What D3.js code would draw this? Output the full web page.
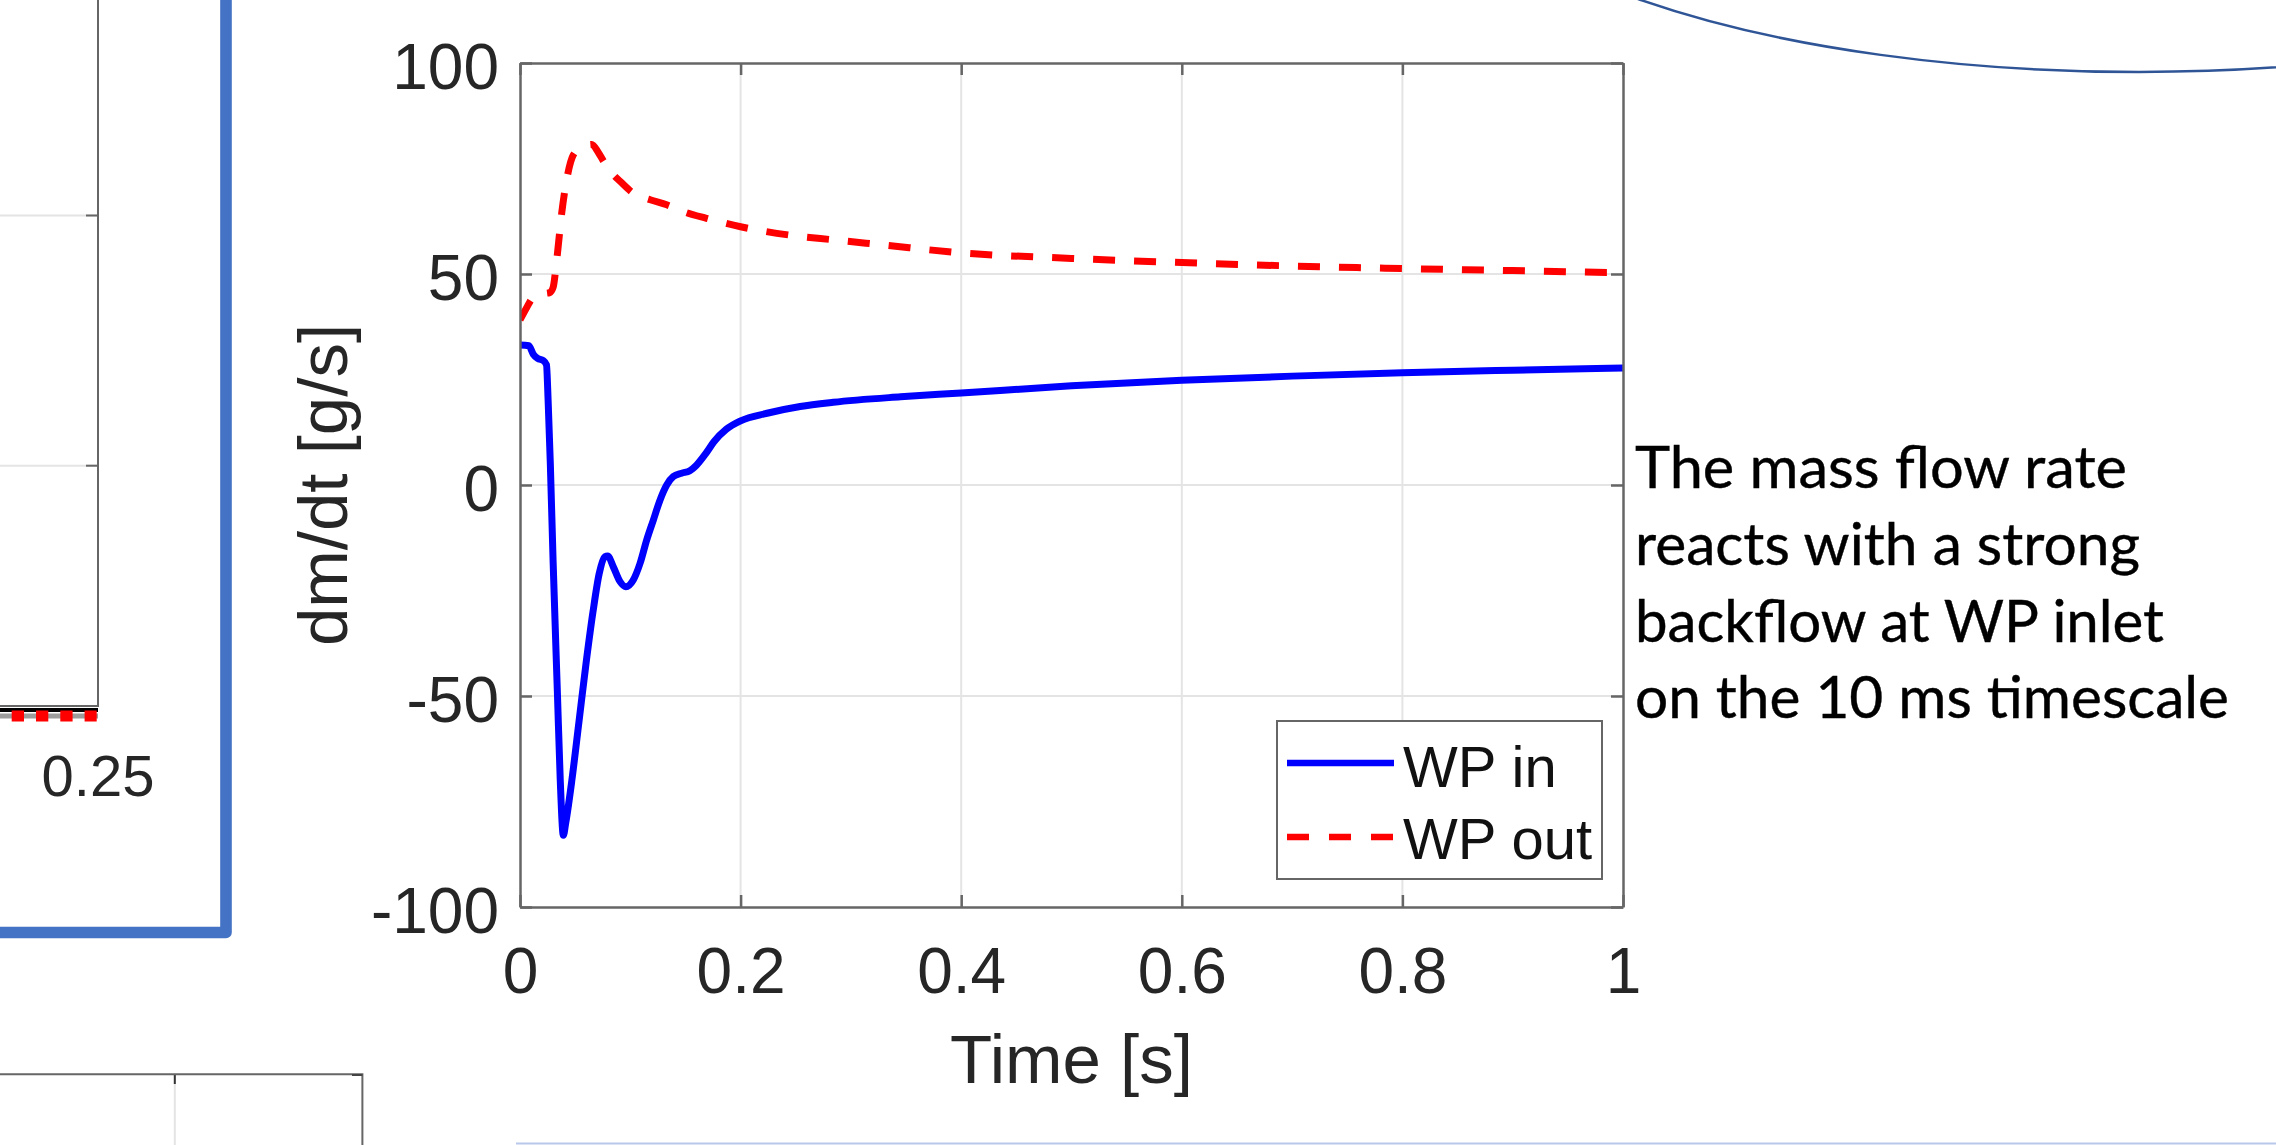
<!DOCTYPE html>
<html>
<head>
<meta charset="utf-8">
<script src="https://cdn.jsdelivr.net/npm/d3@7"></script>
<style>
  html, body { margin: 0; padding: 0; background: #ffffff; }
  svg { display: block; }
</style>
</head>
<body>
<svg id="fig" width="2276" height="1145"></svg>
<script>
// ---- Mass flow rate at the winding pack inlet / outlet ----
const timeIn = [0, 0.008, 0.012, 0.016, 0.021, 0.024, 0.0255, 0.0275, 0.030, 0.034, 0.0365, 0.0393,
  0.0415, 0.047, 0.0535, 0.060, 0.0662, 0.0718, 0.0770, 0.0795, 0.0846, 0.0907, 0.096, 0.1027, 0.1088,
  0.1149, 0.1209, 0.1269, 0.133, 0.139, 0.1466, 0.154, 0.160, 0.168, 0.176, 0.187, 0.2, 0.224,
  0.254, 0.284, 0.345, 0.4, 0.5, 0.6, 0.7, 0.8, 0.9, 1.0];
const wpIn = [33.2, 33.0, 31.0, 30.0, 29.5, 28.5, 20, 5, -18, -50, -70, -83,
  -80, -70, -56, -42, -30, -21, -17, -16.8, -19.4, -22.9, -24.1, -22.5, -18.6,
  -13, -8.3, -3.6, 0, 2, 2.8, 3.4, 4.7, 7.3, 10.3, 13.2, 15.2, 17,
  18.6, 19.6, 20.9, 21.8, 23.5, 24.8, 25.8, 26.6, 27.2, 27.7];

const timeOut = [0, 0.006, 0.012, 0.020, 0.027, 0.030, 0.0333, 0.0378, 0.0423, 0.0483, 0.056,
  0.065, 0.071, 0.076, 0.083, 0.091, 0.103, 0.118, 0.133, 0.150, 0.169, 0.2, 0.245, 0.284,
  0.329, 0.4, 0.5, 0.6, 0.7, 0.8, 0.9, 1.0];
const wpOut = [39.1, 42, 44.5, 45.3, 45.6, 46.8, 53.3, 64.4, 72.3, 78.2, 80.0,
  80.7, 78.8, 76.6, 74, 71.9, 69.1, 67.6, 66.4, 64.6, 63.2, 61.2, 59.2, 58.1,
  56.9, 55.0, 53.7, 52.7, 51.9, 51.3, 50.8, 50.3];

const seriesNames = ["WP in", "WP out"];
const xTicks = [0, 0.2, 0.4, 0.6, 0.8, 1];
const yTicks = [-100, -50, 0, 50, 100];
const xLabel = "Time [s]";
const yLabel = "dm/dt [g/s]";

// neighbouring panel (partly visible on the left)
const leftTicks = [0.25];

const noteLines = [
  "The mass flow rate",
  "reacts with a strong",
  "backflow at WP inlet",
  "on the 10 ms timescale"
];

// ---- layout ----
const svg = d3.select("#fig");
const AX = "#666666", TXT = "#262626", GRID = "#e4e4e4";
const tickFont = "'Liberation Sans', Arial, Helvetica, sans-serif";

const x = d3.scaleLinear().domain([0, 1]).range([520, 1623]);
const y = d3.scaleLinear().domain([-100, 100]).range([907, 63]);

// ---- surrounding slide decorations ----
// left panel remnants
const lx = d3.scaleLinear().domain([0.2, 0.25]).range([-290, 98]);
const leftPanel = svg.append("g");
[215.5, 465.7].forEach(gy => {
  leftPanel.append("line").attr("x1", -2).attr("x2", lx(0.25)).attr("y1", gy).attr("y2", gy)
    .attr("stroke", GRID).attr("stroke-width", 2);
  leftPanel.append("line").attr("x1", lx(0.25) - 12).attr("x2", lx(0.25)).attr("y1", gy).attr("y2", gy)
    .attr("stroke", AX).attr("stroke-width", 2);
});
leftPanel.append("line").attr("x1", -2).attr("x2", lx(0.25)).attr("y1", 716).attr("y2", 716)
  .attr("stroke", "#9c9c9c").attr("stroke-width", 5);
leftPanel.append("line").attr("x1", -2).attr("x2", lx(0.25)).attr("y1", 710).attr("y2", 710)
  .attr("stroke", "#000").attr("stroke-width", 4);
leftPanel.append("line").attr("x1", -0.5).attr("x2", lx(0.25) - 1.3).attr("y1", 716).attr("y2", 716)
  .attr("stroke", "#ff0000").attr("stroke-width", 11)
  .attr("stroke-dasharray", "12.3,12").attr("stroke-dashoffset", 12.1);
leftPanel.append("path")
  .attr("d", `M-2,706H${lx(0.25)}V-2`)
  .attr("fill", "none").attr("stroke", AX).attr("stroke-width", 2);
leftPanel.selectAll("text.lt").data(leftTicks).join("text")
  .attr("x", d => lx(d)).attr("y", 796)
  .attr("text-anchor", "middle")
  .attr("font-family", tickFont).attr("font-size", 58).attr("fill", TXT)
  .text(d => String(d));

// blue rounded frame around the left panel
svg.append("rect")
  .attr("x", -100).attr("y", -100).attr("width", 326).attr("height", 1032.5)
  .attr("fill", "none").attr("stroke", "#4472C4").attr("stroke-width", 11.6)
  .attr("stroke-linejoin", "round");

// lower-left panel remnant
const bl = svg.append("g");
bl.append("line").attr("x1", 174.8).attr("x2", 174.8).attr("y1", 1075).attr("y2", 1150)
  .attr("stroke", GRID).attr("stroke-width", 2);
bl.append("line").attr("x1", 174.8).attr("x2", 174.8).attr("y1", 1074).attr("y2", 1084)
  .attr("stroke", "#333").attr("stroke-width", 2);
bl.append("path").attr("d", "M-2,1074.3H362.4V1150")
  .attr("fill", "none").attr("stroke", AX).attr("stroke-width", 2);
bl.append("line").attr("x1", 352).attr("x2", 362.4).attr("y1", 1075).attr("y2", 1075)
  .attr("stroke", "#444").attr("stroke-width", 2);

// light blue frame edge at bottom
svg.append("line").attr("x1", 516).attr("x2", 2280).attr("y1", 1143.5).attr("y2", 1143.5)
  .attr("stroke", "#b8c8ec").attr("stroke-width", 2);

// arc of a callout ellipse at top right
svg.append("ellipse")
  .attr("cx", 2139).attr("cy", -171.8).attr("rx", 702).attr("ry", 243.8)
  .attr("fill", "none").attr("stroke", "#2F5597").attr("stroke-width", 2.5);

// ---- main axes ----
const plot = svg.append("g");

// grid
plot.append("g").selectAll("line").data(xTicks.slice(1, -1)).join("line")
  .attr("x1", d => x(d)).attr("x2", d => x(d)).attr("y1", y(100)).attr("y2", y(-100))
  .attr("stroke", GRID).attr("stroke-width", 2);
plot.append("g").selectAll("line").data(yTicks.slice(1, -1)).join("line")
  .attr("x1", x(0)).attr("x2", x(1)).attr("y1", d => y(d)).attr("y2", d => y(d))
  .attr("stroke", GRID).attr("stroke-width", 2);

// data
svg.append("defs").append("clipPath").attr("id", "plotclip")
  .append("rect").attr("x", x(0)).attr("y", y(100))
  .attr("width", x(1) - x(0)).attr("height", y(-100) - y(100));

const line = d3.line().x(d => x(d[0])).y(d => y(d[1])).curve(d3.curveMonotoneX);
const inPts = timeIn.map((t, i) => [t, wpIn[i]]);
const outPts = timeOut.map((t, i) => [t, wpOut[i]]);

const dataG = plot.append("g").attr("clip-path", "url(#plotclip)");
dataG.append("path").datum(inPts).attr("d", line)
  .attr("fill", "none").attr("stroke", "#0000ff").attr("stroke-width", 7)
  .attr("stroke-linejoin", "round");
dataG.append("path").datum(outPts).attr("d", line)
  .attr("fill", "none").attr("stroke", "#ff0000").attr("stroke-width", 7)
  .attr("stroke-dasharray", "22,19").attr("stroke-linejoin", "round");

// axes (inward ticks on all four sides, MATLAB box style)
function styleAxis(g) {
  g.select(".domain").attr("stroke", AX).attr("stroke-width", 2.5);
  g.selectAll(".tick line").attr("stroke", AX).attr("stroke-width", 2.5);
  g.selectAll(".tick text").attr("fill", TXT).attr("font-family", tickFont).attr("font-size", 64);
}
plot.append("g").attr("transform", `translate(0,${y(-100)})`)
  .call(d3.axisBottom(x).tickValues(xTicks).tickFormat(d => String(d))
    .tickSize(-12).tickSizeOuter(0).tickPadding(40.6))
  .call(styleAxis);
plot.append("g").attr("transform", `translate(0,${y(100)})`)
  .call(d3.axisTop(x).tickValues(xTicks).tickFormat("").tickSize(-12).tickSizeOuter(0))
  .call(styleAxis);
plot.append("g").attr("transform", `translate(${x(0)},0)`)
  .call(d3.axisLeft(y).tickValues(yTicks).tickFormat(d => String(d))
    .tickSize(-12).tickSizeOuter(0).tickPadding(21))
  .call(styleAxis)
  .call(g => g.selectAll(".tick text").attr("dy", "0.4em"));
plot.append("g").attr("transform", `translate(${x(1)},0)`)
  .call(d3.axisRight(y).tickValues(yTicks).tickFormat("").tickSize(-12).tickSizeOuter(0))
  .call(styleAxis);

// axis labels
plot.append("text")
  .attr("x", (x(0) + x(1)) / 2).attr("y", 1083)
  .attr("text-anchor", "middle")
  .attr("font-family", tickFont).attr("font-size", 69).attr("fill", TXT)
  .text(xLabel);
plot.append("text")
  .attr("transform", `translate(347,${y(0)}) rotate(-90)`)
  .attr("text-anchor", "middle")
  .attr("font-family", tickFont).attr("font-size", 69).attr("fill", TXT)
  .text(yLabel);

// legend
const leg = plot.append("g");
leg.append("rect").attr("x", 1277).attr("y", 721).attr("width", 325).attr("height", 158)
  .attr("fill", "#fff").attr("stroke", AX).attr("stroke-width", 2);
const legItems = [
  { name: seriesNames[0], color: "#0000ff", dash: null, cy: 763, base: 787 },
  { name: seriesNames[1], color: "#ff0000", dash: "22,20", cy: 837, base: 859 }
];
legItems.forEach(it => {
  leg.append("line").attr("x1", 1287).attr("x2", 1394).attr("y1", it.cy).attr("y2", it.cy)
    .attr("stroke", it.color).attr("stroke-width", 6.5)
    .attr("stroke-dasharray", it.dash);
  leg.append("text").attr("x", 1403).attr("y", it.base)
    .attr("font-family", tickFont).attr("font-size", 58).attr("fill", "#111")
    .text(it.name);
});

// ---- explanatory note ----
const note = svg.append("g");
const noteBase = [488, 565, 642, 718];
const noteWidth = [492, 505, 529, 594];   // rendered line widths
note.selectAll("text").data(noteLines).join("text")
  .attr("x", 1635).attr("y", (d, i) => noteBase[i])
  .attr("font-family", "Lato, 'Open Sans', sans-serif").attr("font-size", 58)
  .attr("fill", "#000").attr("stroke", "#000").attr("stroke-width", 0.4)
  .attr("textLength", (d, i) => noteWidth[i])
  .attr("lengthAdjust", "spacingAndGlyphs")
  .text(d => d);
</script>
</body>
</html>
